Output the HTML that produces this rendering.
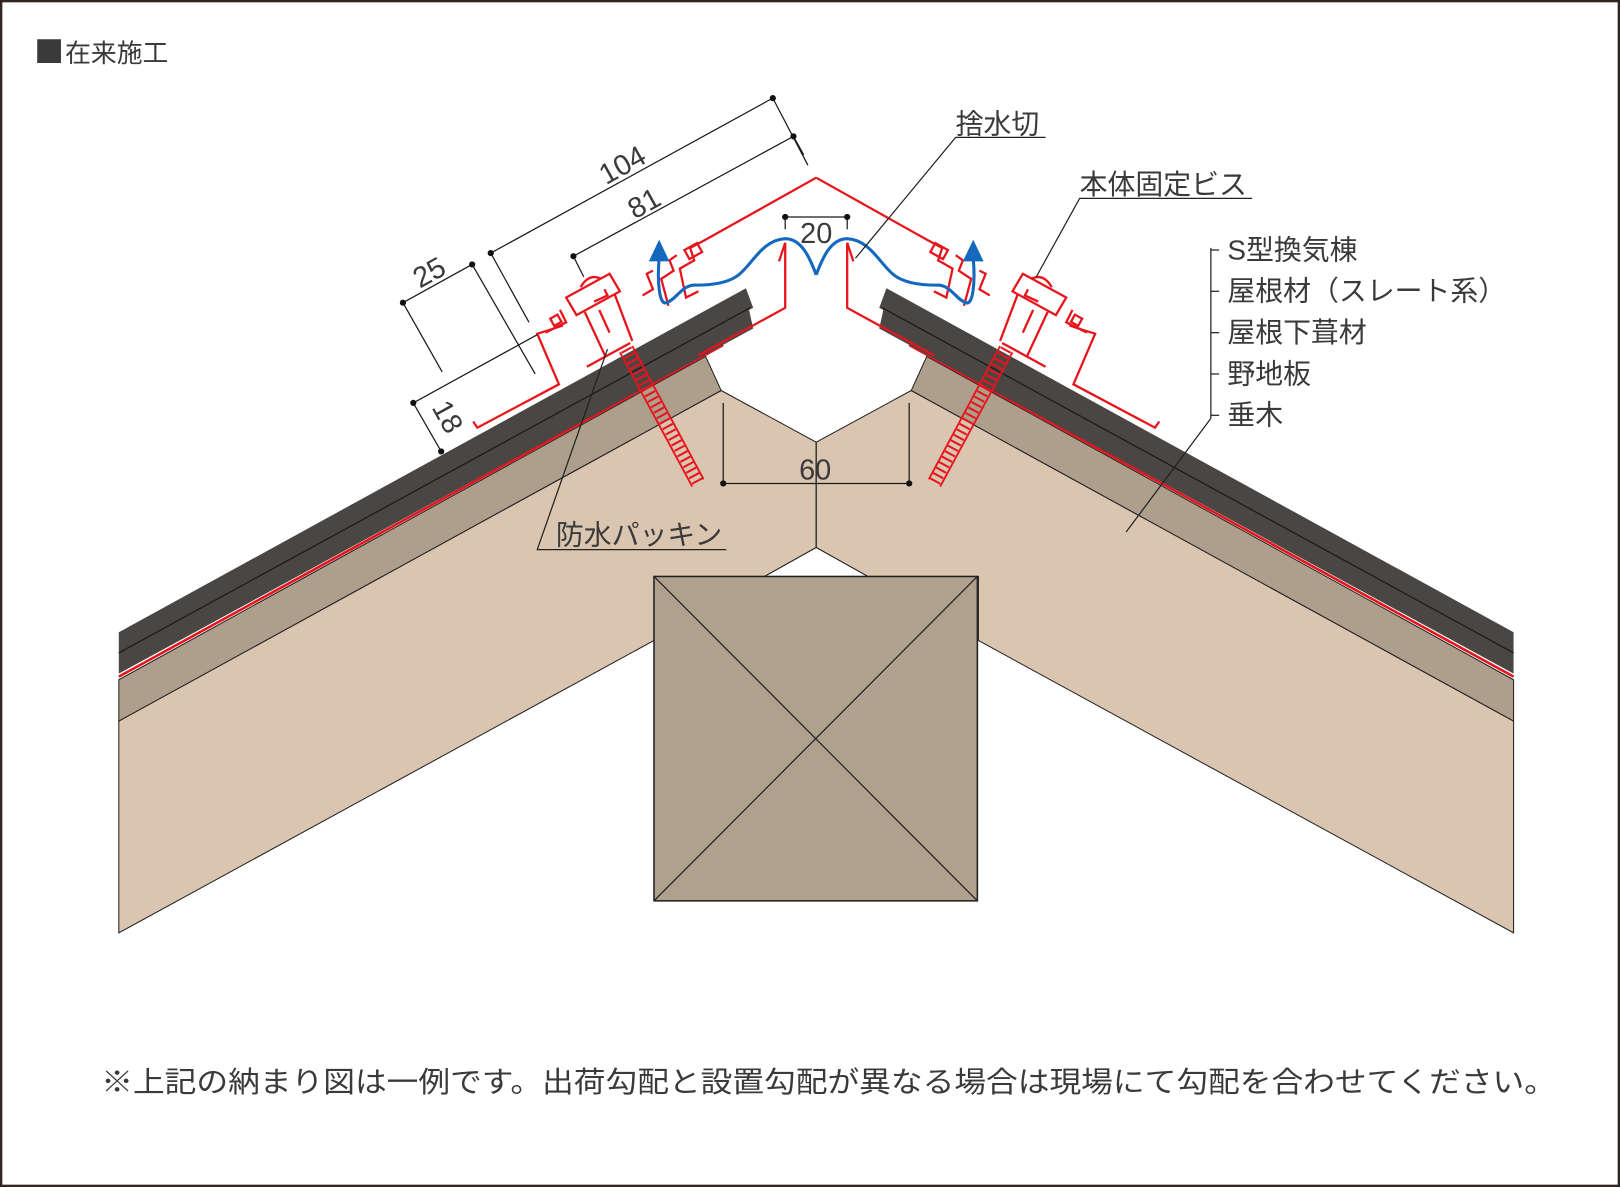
<!DOCTYPE html>
<html><head><meta charset="utf-8"><style>
html,body{margin:0;padding:0;background:#fff}
svg{display:block}
text{font-family:"Liberation Sans","Noto Sans CJK JP",sans-serif;fill:#3a3a3a}
</style></head><body>
<svg width="1620" height="1187" viewBox="0 0 1568 1149" preserveAspectRatio="none" xmlns="http://www.w3.org/2000/svg">
<rect x="1" y="1" width="1566" height="1147" fill="#fff" stroke="#2d2622" stroke-width="2.5"/>
<rect x="36" y="38" width="23" height="23" fill="#3a3a3a"/>
<text x="63" y="60" font-size="25">在来施工</text>

<defs>
<g id="half">
  <polygon points="115,698 698,378 790,428 790,530 740,558 633,558 633,620 115,903" fill="#dac5b0" stroke="#222" stroke-width="1"/>
  <polygon points="115,658 683,345 698,378 115,698" fill="#ae9f8c" stroke="#222" stroke-width="1"/>
  <line x1="115" y1="655" x2="700" y2="334" stroke="#e8141c" stroke-width="2.5"/>
  <polygon points="115,612 722,279 729,298 725,300 729,318 115,652" fill="#4a4644"/>
  <line x1="115" y1="632" x2="726" y2="298" stroke="#1a1a1a" stroke-width="1.2"/>
  <g fill="none" stroke="#e8141c" stroke-width="2.2" stroke-linejoin="miter">
    <polyline points="790,172 683,232 668,240 672,252 658,260 664,288 676,282"/>
    <rect x="664" y="238" width="14" height="10" transform="rotate(-29 671 243)"/>
    <polyline points="655,247 648,252 652,262 640,270 647,296"/>
    <polyline points="760,235 760,298 676,344"/>
    <line x1="760" y1="235" x2="754" y2="253"/>
    <polyline points="632,262 626,265 632,280 622,286"/>
    <polygon points="548,288 590,265 600,282 558,305"/>
    <path d="M562,278 q8,-14 20,-8" />
    <polyline points="575,292 588,286 585,280"/>
    <line x1="566" y1="302" x2="586" y2="345"/>
    <line x1="595" y1="285" x2="612" y2="330"/>
    <line x1="580" y1="300" x2="590" y2="322"/>
    <polyline points="545,315 530,320 520,323 541,372 462,414 458,408"/>
    <polyline points="528,322 548,312 542,300"/>
    <rect x="534" y="306" width="8" height="8" transform="rotate(-29 538 310)"/>
    <line x1="568" y1="355" x2="610" y2="332"/>
  </g>
  <line x1="606" y1="338" x2="676" y2="468" stroke="#e8141c" stroke-width="11" stroke-dasharray="2 4"/>
  <line x1="600" y1="341" x2="670" y2="471" stroke="#e8141c" stroke-width="1.8"/>
  <line x1="612" y1="335" x2="681" y2="464" stroke="#e8141c" stroke-width="1.8"/>
  <path d="M638,250 C636,272 638,296 645,293 C655,290 660,275 674,276 C690,276 705,274 715,266 C728,256 738,232 760,231 C776,231 784,250 790,266" fill="none" stroke="#1469be" stroke-width="3"/>
  <polygon points="638,232 628,253 648,253" fill="#1469be"/>
</g>
</defs>
<use href="#half"/>
<use href="#half" transform="translate(1580,0) scale(-1,1)"/>
<line x1="790" y1="428" x2="790" y2="530" stroke="#222" stroke-width="1"/>
<polygon points="740,558 790,530 840,558" fill="#fff" stroke="#222" stroke-width="1"/>
<rect x="633" y="558" width="313" height="314" fill="#b0a08e" stroke="#222" stroke-width="1.5"/>
<line x1="633" y1="558" x2="946" y2="872" stroke="#222" stroke-width="1.2"/>
<line x1="946" y1="558" x2="633" y2="872" stroke="#222" stroke-width="1.2"/>

<g stroke="#1a1a1a" stroke-width="1.2" fill="none">
  <line x1="475" y1="245" x2="748" y2="95"/>
  <line x1="748" y1="95" x2="782" y2="160"/>
  <line x1="475" y1="245" x2="512" y2="312"/>
  <line x1="555" y1="248" x2="768" y2="132"/>
  <line x1="768" y1="132" x2="778" y2="150"/>
  <line x1="555" y1="248" x2="565" y2="268"/>
  <line x1="390" y1="293" x2="457" y2="256"/>
  <line x1="457" y1="256" x2="518" y2="362"/>
  <line x1="390" y1="293" x2="428" y2="360"/>
  <line x1="400" y1="390" x2="427" y2="437"/>
  <line x1="400" y1="390" x2="520" y2="324"/>
  <line x1="757" y1="210" x2="822" y2="210"/>
  <line x1="760" y1="210" x2="760" y2="222"/>
  <line x1="820" y1="210" x2="820" y2="222"/>
  <line x1="700" y1="468" x2="880" y2="468"/>
  <line x1="700" y1="390" x2="700" y2="468"/>
  <line x1="880" y1="390" x2="880" y2="468"/>
</g>
<g fill="#111">
  <circle cx="475" cy="245" r="3"/><circle cx="748" cy="95" r="3"/>
  <circle cx="555" cy="248" r="3"/><circle cx="768" cy="132" r="3"/>
  <circle cx="390" cy="293" r="3"/><circle cx="457" cy="256" r="3"/>
  <circle cx="400" cy="390" r="3"/><circle cx="427" cy="437" r="3"/>
  <circle cx="760" cy="210" r="3"/><circle cx="820" cy="210" r="3"/>
  <circle cx="700" cy="468" r="3"/><circle cx="880" cy="468" r="3"/>
</g>
<g font-size="28">
  <text x="607" y="168" transform="rotate(-29 607 168)" text-anchor="middle">104</text>
  <text x="628" y="205" transform="rotate(-29 628 205)" text-anchor="middle">81</text>
  <text x="420" y="272" transform="rotate(-29 420 272)" text-anchor="middle">25</text>
  <text x="425" y="408" transform="rotate(61 425 408)" text-anchor="middle">18</text>
  <text x="790" y="235" text-anchor="middle">20</text>
  <text x="789" y="464" text-anchor="middle">60</text>
</g>

<g stroke="#222" stroke-width="1.2" fill="none">
  <polyline points="1012,133 925,133 828,250"/>
  <polyline points="1212,192 1045,192 1003,268"/>
  <polyline points="703,532 520,532 588,338"/>
  <line x1="1172" y1="240" x2="1172" y2="405"/>
  <line x1="1172" y1="242" x2="1180" y2="242"/>
  <line x1="1172" y1="282" x2="1180" y2="282"/>
  <line x1="1172" y1="322" x2="1180" y2="322"/>
  <line x1="1172" y1="362" x2="1180" y2="362"/>
  <line x1="1172" y1="402" x2="1180" y2="402"/>
  <line x1="1172" y1="405" x2="1090" y2="515"/>
</g>
<g font-size="27">
  <text x="925" y="129">捨水切</text>
  <text x="1045" y="188">本体固定ビス</text>
  <text x="538" y="527">防水パッキン</text>
  <text x="1188" y="251">S型換気棟</text>
  <text x="1188" y="291">屋根材（スレート系）</text>
  <text x="1188" y="331">屋根下葺材</text>
  <text x="1188" y="371">野地板</text>
  <text x="1188" y="411">垂木</text>
</g>
<text x="98" y="1057" font-size="28" textLength="1408" lengthAdjust="spacingAndGlyphs">※上記の納まり図は一例です。出荷勾配と設置勾配が異なる場合は現場にて勾配を合わせてください。</text>
</svg>
</body></html>
